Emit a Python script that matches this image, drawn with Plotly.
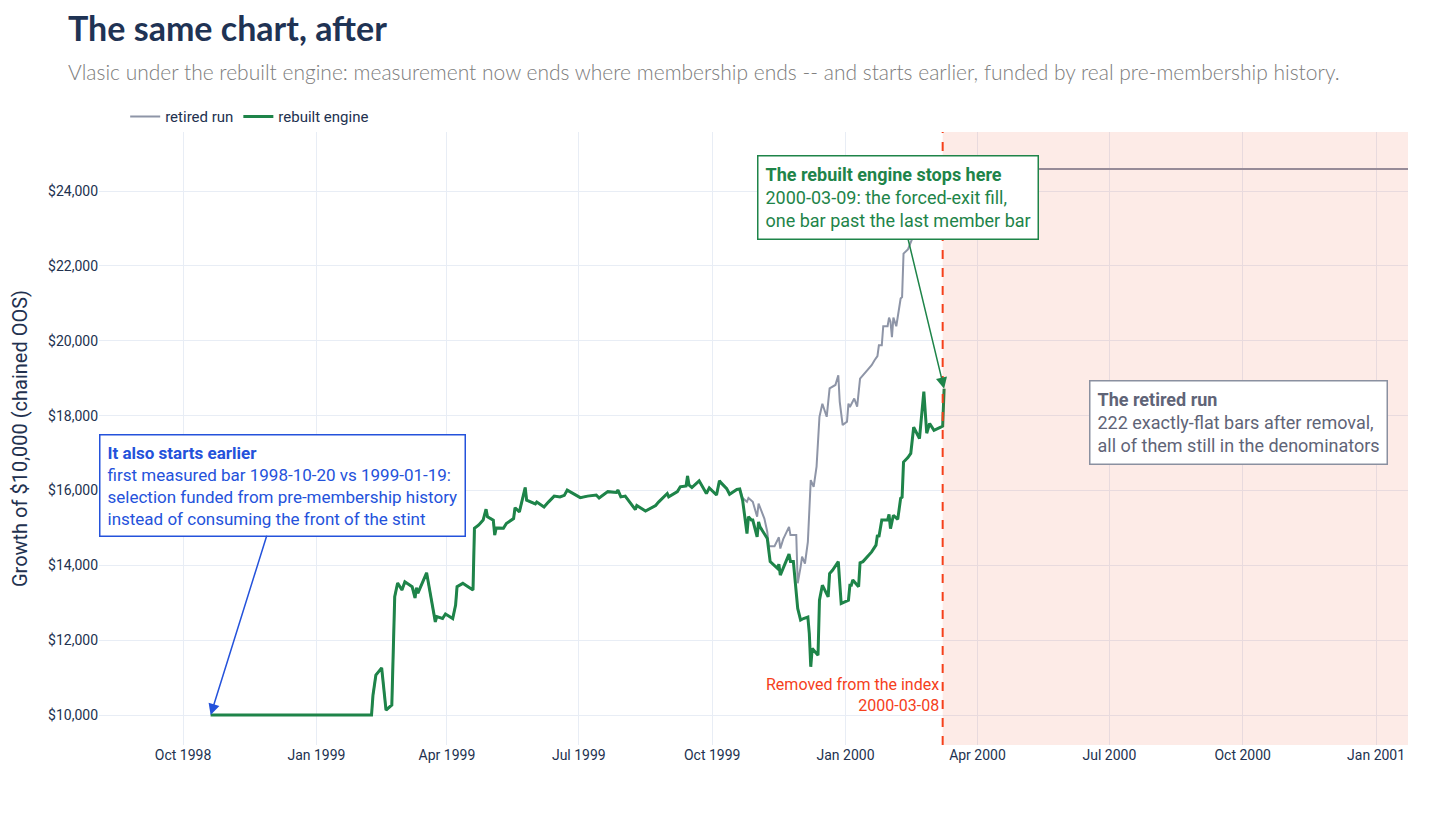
import pandas as pd
import plotly.graph_objects as go

## rebuilt engine (green)
rebuilt_dates = [
    '1998-10-20', '1999-02-08', '1999-02-09', '1999-02-11', '1999-02-15', '1999-02-18', '1999-02-22',
    '1999-02-24', '1999-02-26', '1999-03-01', '1999-03-03', '1999-03-08', '1999-03-10', '1999-03-11',
    '1999-03-12', '1999-03-18', '1999-03-24', '1999-03-25', '1999-03-29', '1999-03-31', '1999-04-05',
    '1999-04-07', '1999-04-08', '1999-04-12', '1999-04-14', '1999-04-19', '1999-04-20', '1999-04-23',
    '1999-04-26', '1999-04-28', '1999-04-29', '1999-05-03', '1999-05-04', '1999-05-05', '1999-05-10',
    '1999-05-12', '1999-05-17', '1999-05-18', '1999-05-21', '1999-05-25', '1999-05-26', '1999-06-01',
    '1999-06-02', '1999-06-07', '1999-06-10', '1999-06-14', '1999-06-18', '1999-06-21', '1999-06-23',
    '1999-06-28', '1999-07-02', '1999-07-07', '1999-07-13', '1999-07-15', '1999-07-21', '1999-07-27',
    '1999-07-28', '1999-07-30', '1999-08-02', '1999-08-09', '1999-08-10', '1999-08-16', '1999-08-23',
    '1999-08-25', '1999-08-31', '1999-09-01', '1999-09-07', '1999-09-09', '1999-09-13', '1999-09-14',
    '1999-09-15', '1999-09-17', '1999-09-22', '1999-09-27', '1999-09-29', '1999-10-04', '1999-10-06',
    '1999-10-07', '1999-10-11', '1999-10-13', '1999-10-18', '1999-10-20',
    '1999-10-22', '1999-10-25', '1999-10-26', '1999-10-28', '1999-10-29', '1999-11-01', '1999-11-02',
    '1999-11-03', '1999-11-08', '1999-11-09', '1999-11-10', '1999-11-15', '1999-11-16', '1999-11-17',
    '1999-11-19', '1999-11-23', '1999-11-24', '1999-11-26', '1999-11-29', '1999-12-01', '1999-12-03',
    '1999-12-06', '1999-12-07', '1999-12-08', '1999-12-09', '1999-12-13', '1999-12-14', '1999-12-16',
    '1999-12-20', '1999-12-21', '1999-12-23', '1999-12-27', '1999-12-28', '1999-12-29', '2000-01-03',
    '2000-01-04', '2000-01-05', '2000-01-06', '2000-01-10', '2000-01-11', '2000-01-13', '2000-01-16',
    '2000-01-19', '2000-01-22', '2000-01-23', '2000-01-24', '2000-01-26', '2000-01-30', '2000-01-31',
    '2000-02-01', '2000-02-03', '2000-02-06', '2000-02-08', '2000-02-09', '2000-02-10', '2000-02-13',
    '2000-02-15', '2000-02-17', '2000-02-20', '2000-02-21', '2000-02-24', '2000-02-26', '2000-02-28',
    '2000-03-02', '2000-03-07', '2000-03-08', '2000-03-09',
]
rebuilt_values = [
    10000, 10000, 10530, 11070, 11260, 10130, 10270,
    13160, 13530, 13340, 13560, 13430, 13130, 13400,
    13260, 13800, 12490, 12630, 12580, 12700, 12580,
    12940, 13430, 13520, 13470, 13340, 14990, 15080,
    15210, 15500, 15300, 15210, 14810, 15000, 14990,
    15120, 15250, 15540, 15430, 16080, 15740, 15640,
    15690, 15560, 15690, 15850, 15830, 15870, 16010,
    15900, 15810, 15850, 15880, 15800, 15970, 15950,
    16010, 15830, 15850, 15490, 15600, 15450, 15600,
    15690, 15920, 15830, 15970, 16100, 16120, 16390,
    16150, 16080, 16260, 15920, 16070, 15880, 16260,
    16210, 16050, 15900, 16030, 16040,
    15740, 14850, 15300, 15210, 15210, 14760, 15160,
    15030, 14720, 14410, 14100, 13920, 14030, 13740,
    13920, 14300, 14100, 14100, 12850, 12540, 12580,
    12620, 12180, 11290, 11780, 11600, 13070, 13470,
    13160, 13780, 13870, 14100, 13520, 12980, 13070,
    13470, 13470, 13610, 13430, 14070, 14100, 14230,
    14360, 14540, 14810, 14760, 15210, 15210, 15360,
    14980, 15340, 15230, 15790, 15820, 16760, 16880,
    16990, 17690, 17440, 17390, 18640, 17530, 17790,
    17610, 17700, 17720, 18720,
]

## retired run (gray): starts 1999-01-19, same path as the rebuilt engine until late Oct 1999
retired_start = '1999-01-19'
retired_split = '1999-10-20'
retired_tail_dates = [
    '1999-10-22', '1999-10-25', '1999-10-26', '1999-10-29', '1999-11-01', '1999-11-02', '1999-11-06',
    '1999-11-08', '1999-11-09', '1999-11-13', '1999-11-16', '1999-11-17', '1999-11-19', '1999-11-23',
    '1999-11-24', '1999-11-28', '1999-11-29', '1999-12-01', '1999-12-02', '1999-12-04', '1999-12-06',
    '1999-12-08', '1999-12-10', '1999-12-12', '1999-12-14', '1999-12-16', '1999-12-19', '1999-12-21',
    '1999-12-25', '1999-12-27', '1999-12-28', '1999-12-30', '2000-01-02', '2000-01-03', '2000-01-04',
    '2000-01-07', '2000-01-09', '2000-01-11', '2000-01-13', '2000-01-16', '2000-01-19', '2000-01-21',
    '2000-01-23', '2000-01-24', '2000-01-26', '2000-01-27', '2000-01-30', '2000-01-31', '2000-02-01',
    '2000-02-02', '2000-02-03', '2000-02-05', '2000-02-08', '2000-02-09', '2000-02-10', '2000-02-13',
    '2000-02-16', '2000-02-18', '2000-02-21', '2000-02-23', '2000-02-25', '2000-02-29', '2000-03-02',
    '2000-03-06', '2000-03-08', '2001-01-23',
]
retired_tail_values = [
    15800, 15700, 15800, 15700, 15300, 15650, 15250,
    14900, 14510, 14510, 14750, 14450, 14700, 15030,
    14810, 14810, 13520, 13960, 14230, 14050, 14630,
    16280, 16100, 16640, 17970, 18320, 17970, 18730,
    18820, 19080, 18370, 17750, 17840, 18320, 18230,
    18460, 18240, 18990, 19080, 19230, 19350, 19480,
    19590, 19880, 19880, 20390, 20390, 20620, 20510,
    20100, 20620, 20390, 21130, 21170, 22330, 22440,
    22730, 23700, 24300, 23900, 24400, 23800, 24200,
    24000, 24590, 24590,
]

removal_date = '2000-03-08'
exit_date = '2000-03-09'
first_bar = '1998-10-20'
x_range = ['1998-08-04', '2001-01-23']
y_range = [9200, 25580]

GREEN = '#1E8449'
GRAY = '#8E95A7'
RED = '#F5401B'
BLUE = '#2452DB'
NAVY = '#22314F'

df = pd.DataFrame({'date': pd.to_datetime(rebuilt_dates), 'value': rebuilt_values})

# gray = shared early stretch + its own tail
shared = df[(df['date'] > retired_start) & (df['date'] <= retired_split)]
retired = pd.concat([
    pd.DataFrame({'date': [pd.Timestamp(retired_start)], 'value': [10000]}),
    shared,
    pd.DataFrame({'date': pd.to_datetime(retired_tail_dates), 'value': retired_tail_values}),
])

fig = go.Figure()

fig.add_trace(go.Scatter(x=retired['date'], y=retired['value'], mode='lines', name='retired run',
                         line=dict(color=GRAY, width=2)))
fig.add_trace(go.Scatter(x=df['date'], y=df['value'], mode='lines', name='rebuilt engine',
                         line=dict(color=GREEN, width=3)))

# shaded area after removal (drawn over the traces, translucent) + dashed removal line
fig.add_shape(type='rect', xref='x', yref='paper', x0=removal_date, x1=x_range[1], y0=0, y1=1,
              fillcolor='rgba(240,60,20,0.1)', line_width=0, layer='above')
fig.add_shape(type='line', xref='x', yref='paper', x0=removal_date, x1=removal_date, y0=0, y1=1,
              line=dict(color=RED, width=2, dash='dash'))

fig.add_annotation(x=removal_date, y=0.045, xref='x', yref='paper', xanchor='right', yanchor='bottom',
                   align='right', showarrow=False, xshift=-2,
                   text='Removed from the index<br>2000-03-08', font=dict(color=RED, size=16))

fig.add_annotation(x=exit_date, y=rebuilt_values[-1], ax=-46, ay=-191, showarrow=True,
                   arrowhead=2, arrowsize=1.5, arrowwidth=1.5, arrowcolor=GREEN,
                   text='<b>The rebuilt engine stops here</b><br>2000-03-09: the forced-exit fill,<br>one bar past the last member bar',
                   align='left', font=dict(color=GREEN, size=18),
                   bgcolor='white', bordercolor=GREEN, borderwidth=1.5, borderpad=7)

fig.add_annotation(x=first_bar, y=rebuilt_values[0], ax=72, ay=-230, showarrow=True,
                   arrowhead=2, arrowsize=1.5, arrowwidth=1.5, arrowcolor=BLUE,
                   text='<b>It also starts earlier</b><br>first measured bar 1998-10-20 vs 1999-01-19:<br>selection funded from pre-membership history<br>instead of consuming the front of the stint',
                   align='left', font=dict(color=BLUE, size=17),
                   bgcolor='white', bordercolor=BLUE, borderwidth=1.5, borderpad=7)

fig.add_annotation(x='2000-09-28', y=17830, showarrow=False,
                   text='<b>The retired run</b><br>222 exactly-flat bars after removal,<br>all of them still in the denominators',
                   align='left', font=dict(color='#5F6477', size=18),
                   bgcolor='white', bordercolor='#8A90A0', borderwidth=1.5, borderpad=7)

# title + subtitle
fig.add_annotation(x=-0.0252, y=1.171, xref='paper', yref='paper', xanchor='left', yanchor='middle',
                   showarrow=False, text='<b>The same chart, after</b>',
                   font=dict(family='Lato', size=34, color='#1F3354', weight=900))
fig.add_annotation(x=-0.0252, y=1.098, xref='paper', yref='paper', xanchor='left', yanchor='middle',
                   showarrow=False,
                   text='Vlasic under the rebuilt engine: measurement now ends where membership ends -- and starts earlier, funded by real pre-membership history.',
                   font=dict(family='Lato', size=21, color='#7C7C7C', weight=300))

fig.update_layout(
    template='plotly_white',
    width=1456, height=819,
    margin=dict(l=91, r=56, t=124, b=82),
    font=dict(family='Roboto', size=14, color=NAVY),
    showlegend=True,
    legend=dict(orientation='h', x=0.02, y=0.998, xanchor='left', yanchor='bottom',
                font=dict(size=15, color=NAVY), bgcolor='rgba(0,0,0,0)'),
    hovermode='x unified',
)
fig.update_xaxes(range=x_range, dtick='M3', tick0='1998-10-01', tickformat='%b %Y',
                 showgrid=True, gridcolor='#E8EDF5', zeroline=False)
fig.update_yaxes(range=y_range, dtick=2000, tickprefix='$', tickformat=',', showgrid=True,
                 gridcolor='#E8EDF5', zeroline=False,
                 title=dict(text='Growth of $10,000 (chained OOS)', font=dict(size=20, color=NAVY)))

fig.write_html('out.html')
